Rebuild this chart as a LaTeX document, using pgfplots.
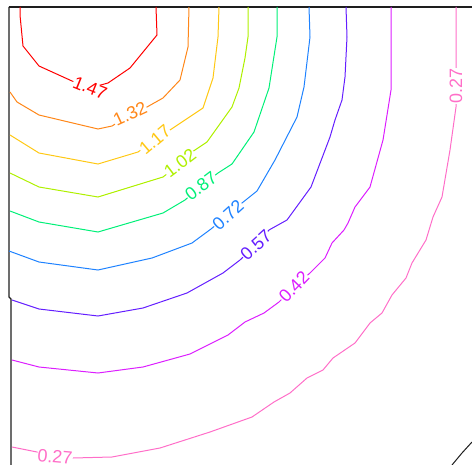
\documentclass[border=0pt]{standalone}
\usepackage{pgfplots}
\pgfplotsset{compat=1.18}
\usepackage{fontspec}
\setmainfont{Liberation Sans}

\definecolor{c147}{RGB}{255,0,0}
\definecolor{c132}{RGB}{255,135,25}
\definecolor{c117}{RGB}{255,200,20}
\definecolor{c102}{RGB}{175,240,0}
\definecolor{c087}{RGB}{0,240,120}
\definecolor{c072}{RGB}{30,130,255}
\definecolor{c057}{RGB}{100,30,255}
\definecolor{c042}{RGB}{220,30,255}
\definecolor{c027}{RGB}{255,110,200}
\definecolor{frame}{RGB}{30,30,30}
\tikzset{lbl/.style={fill=white, inner sep=0.3bp, font=\fontsize{18}{18}\selectfont}}

\begin{document}
\begin{tikzpicture}
\begin{axis}[
    width=472bp, height=465bp, scale only axis,
    xmin=0, xmax=472, ymin=0, ymax=465,
    y dir=reverse, hide axis, clip=true,
    every axis plot/.append style={line width=1bp, mark=none},
  ]
  % frame
  \addplot[frame, line width=1.2bp] coordinates {(9,7) (472,7)};
  \addplot[frame, line width=1.2bp] coordinates {(9,7) (9,297) (11,299) (11,465)};
  \addplot[frame] coordinates {(452,465) (462,453) (472,442)};

  % contour lines, pixel coordinates
  \addplot[c147] coordinates {(20,7) (20,15) (23,46) (39,66) (72,81) (90,88) (108,83) (130,68) (157,35) (156,7)};
  \addplot[c132] coordinates {(10,92) (17,102) (39,115) (98,129) (112,126) (130,115) (147,107) (163,98) (180,80) (188,47) (189,7)};
  \addplot[c117] coordinates {(10,135) (39,153) (98,164) (138,152) (155,140) (173,128) (203,108) (213,78) (218,37) (219,7)};
  \addplot[c102] coordinates {(10,173) (39,187) (98,197) (163,177) (180,164) (192,152) (207,142) (232,107) (239,88) (245,58) (248,37) (248,7)};
  \addplot[c087] coordinates {(10,211) (39,222) (98,232) (163,213) (185,200) (201,186) (218,173) (232,164) (254,132) (269,88) (277,37) (277,7)};
  \addplot[c072] coordinates {(9,251) (39,262) (98,270) (152,258) (192,243) (211,229) (228,215) (242,203) (257,191) (275,160) (297,117) (304,87) (310,37) (309,7)};
  \addplot[c057] coordinates {(12,300) (39,309) (98,316) (143,308) (187,293) (223,273) (240,260) (256,245) (269,230) (287,220) (311,187) (330,137) (335,120) (342,100) (345,77) (347,37) (346,7)};
  \addplot[c042] coordinates {(12,360) (39,367) (98,373) (143,367) (190,354) (228,335) (245,322) (264,313) (279,302) (294,287) (310,273) (325,258) (332,243) (344,230) (348,223) (355,207) (370,187) (383,140) (391,90) (391,7)};
  \addplot[c027] coordinates {(12,447) (37,452) (55,457) (73,458) (112,457) (160,448) (210,432) (252,417) (274,402) (290,393) (307,378) (323,370) (333,358) (355,343) (370,323) (382,313) (392,295) (406,278) (412,263) (426,240) (433,217) (442,197) (450,150) (456,107) (456,67) (456,7)};

  % labels
  \node[lbl, text=c147, rotate=-22] at (axis cs:90,88) {1.47};
  \node[lbl, text=c132, rotate=25] at (axis cs:130,114) {1.32};
  \node[lbl, text=c117, rotate=40] at (axis cs:155,140) {1.17};
  \node[lbl, text=c102, rotate=37] at (axis cs:180,163) {1.02};
  \node[lbl, text=c087, rotate=37] at (axis cs:201,186) {0.87};
  \node[lbl, text=c072, rotate=42] at (axis cs:228,215) {0.72};
  \node[lbl, text=c057, rotate=42] at (axis cs:256,245) {0.57};
  \node[lbl, text=c042, rotate=46] at (axis cs:294,287) {0.42};
  \node[lbl, text=c027, rotate=-5] at (axis cs:55,457) {0.27};
  \node[lbl, text=c027, rotate=90] at (axis cs:456,86) {0.27};

  \draw[draw=none] (rel axis cs:0,0) rectangle (rel axis cs:1,1);
\end{axis}
\end{tikzpicture}
\end{document}
